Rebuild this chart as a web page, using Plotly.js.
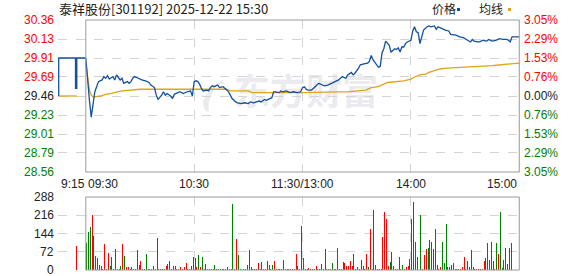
<!DOCTYPE html>
<html><head><meta charset="utf-8">
<script src="https://cdn.plot.ly/plotly-3.0.1.min.js"></script>
<style>html,body{margin:0;padding:0;background:#fff;}#c{width:578px;height:276px;}</style>
</head><body><div id="c"></div>
<script>
// ---- data ----
const titleText = '泰祥股份[301192] 2025-12-22 15:30';
const priceTicks = [30.36, 30.13, 29.91, 29.69, 29.46, 29.23, 29.01, 28.79, 28.56];
const pctTicks = ['3.05%','2.29%','1.53%','0.76%','0.00%','0.76%','1.53%','2.29%','3.05%'];
const volTicks = [288, 216, 144, 72, 0];
const timeLabels = ['9:15','09:30','10:30','11:30/13:00','14:00','15:00'];
const timeLabelMin = [-15, 0, 60, 120, 180, 240];

// pre-market auction (minutes relative to 09:30)
const preT = [-15, -5.7, -5.0, -0.1];
const prePrice = [29.46, 29.91, 29.55, 29.91];
const preAvgT = [-15, -5];
const preAvg = [29.46, 29.46];
const preVolT = [-5];
const preVol = [95];

// session price (minutes from 09:30, 11:30/13:00 = 120)
const priceT = [0,1,2,3,4,5,6,7,9,10,11,12,13,15,16,17,19,20,21,23,24,25,26,27,29,31,33,35,36,38,39,40,42,43,44,45,47,48,49,51,52,54,56,58,59,60,61,62,63,64,65,67,68,69,70,71,73,74,76,78,79,80,81,83,84,86,88,90,91,93,95,96,97,99,100,102,103,104,105,107,108,109,111,113,115,117,119,120,121,122,123,125,127,129,131,132,134,136,138,140,142,144,145,147,148,149,151,152,154,156,157,158,159,161,162,163,164,165,166,168,169,170,171,172,173,174,175,176,177,178,180,181,182,183,184,185,186,187,189,190,191,193,194,195,197,199,201,202,205,207,209,211,213,214,215,217,218,220,222,223,225,227,229,231,233,234,235,236,240];
const price = [29.91,29.61,29.41,29.21,29.38,29.51,29.57,29.63,29.65,29.69,29.67,29.70,29.66,29.69,29.65,29.71,29.65,29.67,29.61,29.63,29.61,29.63,29.67,29.69,29.67,29.65,29.64,29.62,29.59,29.56,29.47,29.42,29.47,29.51,29.47,29.49,29.46,29.43,29.48,29.50,29.51,29.49,29.51,29.52,29.46,29.63,29.64,29.63,29.60,29.55,29.52,29.53,29.52,29.56,29.58,29.57,29.59,29.56,29.57,29.53,29.51,29.47,29.43,29.39,29.38,29.37,29.38,29.37,29.39,29.38,29.39,29.40,29.39,29.42,29.41,29.43,29.44,29.51,29.51,29.50,29.52,29.51,29.52,29.50,29.51,29.50,29.51,29.56,29.57,29.54,29.53,29.53,29.57,29.61,29.59,29.58,29.59,29.61,29.63,29.65,29.69,29.67,29.71,29.74,29.71,29.73,29.79,29.83,29.84,29.85,29.87,29.94,29.89,29.83,29.80,29.81,29.97,30.02,30.11,30.06,29.98,30.00,30.02,30.01,30.03,29.98,30.04,30.04,30.08,30.10,30.12,30.23,30.28,30.22,30.21,30.08,30.16,30.24,30.28,30.29,30.28,30.29,30.25,30.28,30.26,30.24,30.23,30.19,30.18,30.16,30.15,30.12,30.10,30.13,30.11,30.10,30.10,30.12,30.11,30.13,30.11,30.12,30.14,30.13,30.13,30.12,30.10,30.16,30.16];

const avgT = [0,1,2,3,4,5,8,11,14,20,25,30,60,78,80,90,92,103,120,140,145,150,155,158,162,165,167,176,180,182,185,188,190,193,196,200,210,220,225,230,240];
const avgPrice = [29.85,29.69,29.53,29.47,29.45,29.45,29.46,29.48,29.49,29.52,29.53,29.54,29.54,29.54,29.52,29.52,29.50,29.50,29.50,29.51,29.51,29.52,29.53,29.56,29.57,29.60,29.62,29.64,29.66,29.685,29.71,29.72,29.74,29.76,29.78,29.79,29.80,29.81,29.82,29.83,29.85];

// per-minute volume, minute 0..240 (10 per row)
const vol = [
  108,150,170,217,134,55,46,20,16,5,
  103,5,67,16,50,5,83,5,5,16,
  103,55,12,12,5,12,5,5,79,20,
  36,5,5,63,5,5,5,17,5,126,
  5,5,5,5,16,22,36,5,16,16,
  5,5,13,5,13,29,3,3,16,50,
  47,12,58,12,50,3,24,5,5,5,
  5,20,5,5,5,5,5,5,12,5,
  5,260,5,122,59,5,5,5,3,20,
  79,13,5,5,5,28,5,33,5,5,
  36,20,5,20,37,5,5,5,5,41,
  5,5,5,5,5,5,63,16,5,174,
  47,5,5,9,5,5,5,16,5,5,
  24,5,83,5,5,3,28,5,5,87,
  5,5,33,28,16,16,36,16,63,5,
  12,5,38,16,5,63,12,162,5,237,
  20,5,5,5,131,230,200,16,32,71,
  16,5,5,50,5,20,5,13,16,42,
  201,268,112,51,87,217,5,59,83,87,
  118,110,83,160,20,5,12,110,29,181,
  12,12,20,28,5,5,5,5,12,51,
  5,36,12,78,12,5,5,5,5,5,
  37,47,105,39,109,37,5,105,63,229,
  9,39,87,24,87,108,0,0,0,0,
  131];
// bar colour per minute: R = up (red), G = down (green)
const volDir = [
  'GGGRRRRGRG','RRRGRGRRGG','RGRRGGRRGR','RRGGGGRGGG','RRRRRGGRRR',
  'RGRRRRGGGR','RRGRGGGRRR','RGRGGGRGGR','RGRRGRRRGG','GRRRRRGRGR',
  'GRRGRGRRRR','GGRGGRRGGR','RRGRRRGRRG','GRRRRGGRRR','RGRRRRRRGR',
  'RRRGRRGRRG','GRRRRRRRGR','RRRGRGRRRG','RRRGRGRRRG','RGRRGRRGGG',
  'RGGRGRRGRR','GGRRRGRRRG','RRRRRGRGRG','GRRRGRRRRR','R'
].join('');

// ---- rendering ----
const RED = '#ff0000', GREEN = '#008000', DARK = '#222222';
const BLUE = '#13509f', GOLD = '#e0a31a';
const L = 58, R = 58, T = 20, B = 6, W = 578, H = 276;
const pw = W - L - R, ph = H - T - B;
const px = v => (v - L) / pw;           // pixel x -> paper
const py = v => (H - B - v) / ph;        // pixel y -> paper

const volX = vol.map((_, i) => i);
const volColors = vol.map((_, i) => volDir.charAt(i) === 'G' ? GREEN : RED);

const traces = [
  {x: preAvgT, y: preAvg, type: 'scatter', mode: 'lines', line: {color: GOLD, width: 1.3}, xaxis: 'x', yaxis: 'y', hoverinfo: 'skip'},
  {x: preT, y: prePrice, type: 'scatter', mode: 'lines', line: {color: BLUE, width: 1.3, shape: 'vh'}, xaxis: 'x', yaxis: 'y', hoverinfo: 'skip'},
  {x: avgT, y: avgPrice, type: 'scatter', mode: 'lines', line: {color: GOLD, width: 1.3}, xaxis: 'x', yaxis: 'y', hoverinfo: 'skip'},
  {x: priceT, y: price, type: 'scatter', mode: 'lines', line: {color: BLUE, width: 1.3}, xaxis: 'x', yaxis: 'y', hoverinfo: 'skip'},
  {x: volX, y: vol, type: 'bar', width: 0.55, offset: 0.2, marker: {color: volColors, line: {width: 0}}, xaxis: 'x2', yaxis: 'y2', hoverinfo: 'skip'},
  {x: preVolT, y: preVol, type: 'bar', width: 0.55, marker: {color: RED, line: {width: 0}}, xaxis: 'x2', yaxis: 'y2', hoverinfo: 'skip'}
];

const gridStyle = {showgrid: true, gridcolor: '#d4d4d4', griddash: 'dash', gridwidth: 1, zeroline: false, showticklabels: false, ticks: '', showline: false, fixedrange: true};
const xr = [-15.4, 240.4];
const mainDom = [py(172), 1];
const volDom = [0, py(197)];

const ann = [];
const font = 'Liberation Sans, Arial, sans-serif';
const cjk = 'Noto Sans CJK SC, sans-serif';
priceTicks.forEach((v, i) => {
  const col = i < 4 ? RED : (i === 4 ? DARK : GREEN);
  ann.push({xref: 'paper', yref: 'y', x: px(56), y: v, xanchor: 'right', yanchor: 'middle', showarrow: false,
    text: v.toFixed(2), font: {family: font, size: 12, color: col}});
  ann.push({xref: 'paper', yref: 'y', x: px(522), y: v, xanchor: 'left', yanchor: 'middle', showarrow: false,
    text: pctTicks[i], font: {family: font, size: 12, color: col}});
});
volTicks.forEach(v => {
  ann.push({xref: 'paper', yref: 'y2', x: px(56), y: v, xanchor: 'right', yanchor: 'middle', showarrow: false,
    text: String(v), font: {family: font, size: 12, color: DARK}});
});
const anchors = ['left','left','center','center','center','right'];
timeLabels.forEach((s, i) => {
  ann.push({xref: 'x', yref: 'paper', x: timeLabelMin[i], y: py(184), xanchor: anchors[i], yanchor: 'middle', showarrow: false,
    text: s, font: {family: font, size: 12, color: DARK}});
});
ann.push({xref: 'paper', yref: 'paper', x: px(57), y: py(9), xanchor: 'left', yanchor: 'middle', showarrow: false,
  text: titleText, font: {family: cjk, size: 13, color: '#222'}});
ann.push({xref: 'paper', yref: 'paper', x: px(430), y: py(9), xanchor: 'left', yanchor: 'middle', showarrow: false,
  text: '价格', font: {family: cjk, size: 12, color: '#222'}});
ann.push({xref: 'paper', yref: 'paper', x: px(477), y: py(9), xanchor: 'left', yanchor: 'middle', showarrow: false,
  text: '均线', font: {family: cjk, size: 12, color: '#222'}});

// watermark swoosh (decorative)
const swoosh = (() => {
  const pts = [[222,80],[208,90],[203,101],[209,112],[207,101],[213,92],[225,84]];
  const [a,b,c,d,e,f,g] = pts.map(p => [px(p[0]), py(p[1])]);
  return `M ${a[0]} ${a[1]} Q ${b[0]} ${b[1]} ${c[0]} ${c[1]} Q ${c[0]} ${d[1]} ${d[0]} ${d[1]} Q ${e[0]} ${e[1]} ${f[0]} ${f[1]} Q ${f[0]} ${g[1]} ${g[0]} ${g[1]} Z`;
})();

const shapes = [
  {type: 'path', xref: 'paper', yref: 'paper', path: swoosh, layer: 'below', line: {width: 0}, fillcolor: '#ebebef'},
  {type: 'rect', xref: 'paper', yref: 'paper', x0: px(200), x1: px(384), y0: py(112), y1: py(78), layer: 'below',
    line: {width: 0}, fillcolor: 'rgba(0,0,0,0)',
    label: {text: '东方财富', textposition: 'middle right', font: {family: cjk, size: 36, color: '#ebebef', weight: 'bold'}}},
  {type: 'rect', xref: 'x', yref: 'y domain', x0: 0, x1: 240, y0: 0, y1: 1, line: {color: '#9a9a9a', width: 1}, fillcolor: 'rgba(0,0,0,0)'},
  {type: 'rect', xref: 'x2', yref: 'y2 domain', x0: 0, x1: 240, y0: 0, y1: 1, line: {color: '#9a9a9a', width: 1}, fillcolor: 'rgba(0,0,0,0)'},
  {type: 'rect', xref: 'paper', yref: 'paper', x0: px(457), x1: px(460), y0: py(11), y1: py(8), line: {width: 0}, fillcolor: BLUE},
  {type: 'rect', xref: 'paper', yref: 'paper', x0: px(508), x1: px(511), y0: py(11), y1: py(8), line: {width: 0}, fillcolor: GOLD}
];

const layout = {
  width: W, height: H,
  margin: {l: L, r: R, t: T, b: B, pad: 0},
  paper_bgcolor: '#fff', plot_bgcolor: '#fff',
  showlegend: false,
  xaxis: Object.assign({}, gridStyle, {range: xr, domain: [0, 1], tickvals: [-15, 60, 120, 180], anchor: 'y'}),
  yaxis: Object.assign({}, gridStyle, {range: [priceTicks[8], priceTicks[0]], domain: mainDom, tickvals: priceTicks, anchor: 'x'}),
  xaxis2: Object.assign({}, gridStyle, {range: xr, domain: [0, 1], tickvals: [-15, 60, 120, 180], anchor: 'y2'}),
  yaxis2: Object.assign({}, gridStyle, {range: [0, volTicks[0]], domain: volDom, tickvals: volTicks, anchor: 'x2'}),
  annotations: ann,
  shapes: shapes,
  bargap: 0
};
Plotly.newPlot('c', traces, layout, {staticPlot: true, displayModeBar: false});
</script>
</body></html>
